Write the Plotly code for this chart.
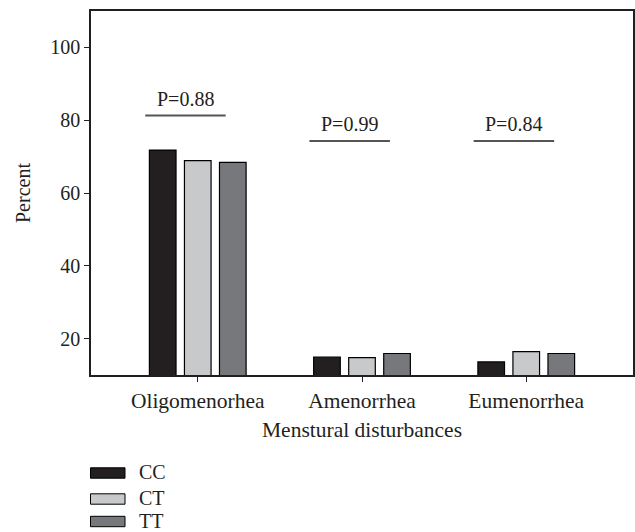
import plotly.graph_objects as go

categories = ["Oligomenorhea", "Amenorrhea", "Eumenorrhea"]
genotypes = ["CC", "CT", "TT"]
cc_values = [71.8, 14.9, 13.6]
ct_values = [68.9, 14.8, 16.4]
tt_values = [68.4, 15.9, 15.9]
p_labels = ["P=0.88", "P=0.99", "P=0.84"]
p_line_y = [81.3, 74.3, 74.3]
y_ticks = [20, 40, 60, 80, 100]

colors = ["#231f20", "#c8c9cb", "#77787b"]
FONT = "Liberation Serif"
FS = 20
FSX = 21.5

fig = go.Figure()
for name, vals, col in zip(genotypes, [cc_values, ct_values, tt_values], colors):
    fig.add_trace(go.Bar(
        x=categories, y=vals, name=name, marker_color=col,
        marker_line_color="#000000", marker_line_width=1.2,
        showlegend=False,
    ))

# P-value lines and labels
for i, (lab, ly) in enumerate(zip(p_labels, p_line_y)):
    cx = i - 0.075
    fig.add_shape(type="line", xref="x", yref="y", x0=cx - 0.245, x1=cx + 0.245,
                  y0=ly, y1=ly, line=dict(color="#555555", width=2))
    fig.add_annotation(x=cx, y=ly + 1.0, xref="x", yref="y", text=lab, showarrow=False,
                       yanchor="bottom", font=dict(family=FONT, size=FS, color="#231f20"))

# Custom legend (bottom-left)
plot_top, plot_bottom, plot_left, plot_w = 11, 375, 91, 542
def py(p):
    return (plot_bottom - p) / (plot_bottom - plot_top)
def px(p):
    return (p - plot_left) / plot_w
legend_y = [473.0, 499.0, 521.5]
for name, col, yc in zip(genotypes, colors, legend_y):
    fig.add_shape(type="rect", xref="paper", yref="paper",
                  x0=px(90.5), x1=px(125), y0=py(yc - 5.2), y1=py(yc + 5.2),
                  fillcolor=col, line=dict(color="#000000", width=1))
    fig.add_annotation(xref="paper", yref="paper", x=px(137), y=py(yc - 1), text=name,
                       showarrow=False, xanchor="left", yanchor="middle",
                       font=dict(family=FONT, size=FS, color="#231f20"))

fig.update_layout(
    width=635, height=532,
    margin=dict(l=91, r=2, t=11, b=157, autoexpand=False),
    paper_bgcolor="white", plot_bgcolor="white",
    barmode="group", bargap=0.36, bargroupgap=0.24,
    font=dict(family=FONT, size=FS, color="#231f20"),
    xaxis=dict(
        type="category", range=[-0.65, 2.65], automargin=False,
        showline=True, linecolor="#231f20", linewidth=1.5, mirror=True,
        ticks="outside", ticklen=5, tickcolor="#231f20", tickwidth=1,
        tickfont=dict(family=FONT, size=FSX),
        showgrid=False, zeroline=False,
        title=dict(text="Menstural disturbances", font=dict(family=FONT, size=FSX), standoff=10),
    ),
    yaxis=dict(
        range=[10, 110], tickvals=y_ticks, automargin=False,
        showline=True, linecolor="#231f20", linewidth=1.5, mirror=True,
        ticks="outside", ticklen=5, tickcolor="#231f20", tickwidth=1,
        showgrid=False, zeroline=False,
        title=dict(text="Percent", font=dict(family=FONT, size=FS), standoff=14),
    ),
)

fig.write_html("out.html", config={"displayModeBar": False},
               post_script="document.body.style.margin='0px';")
